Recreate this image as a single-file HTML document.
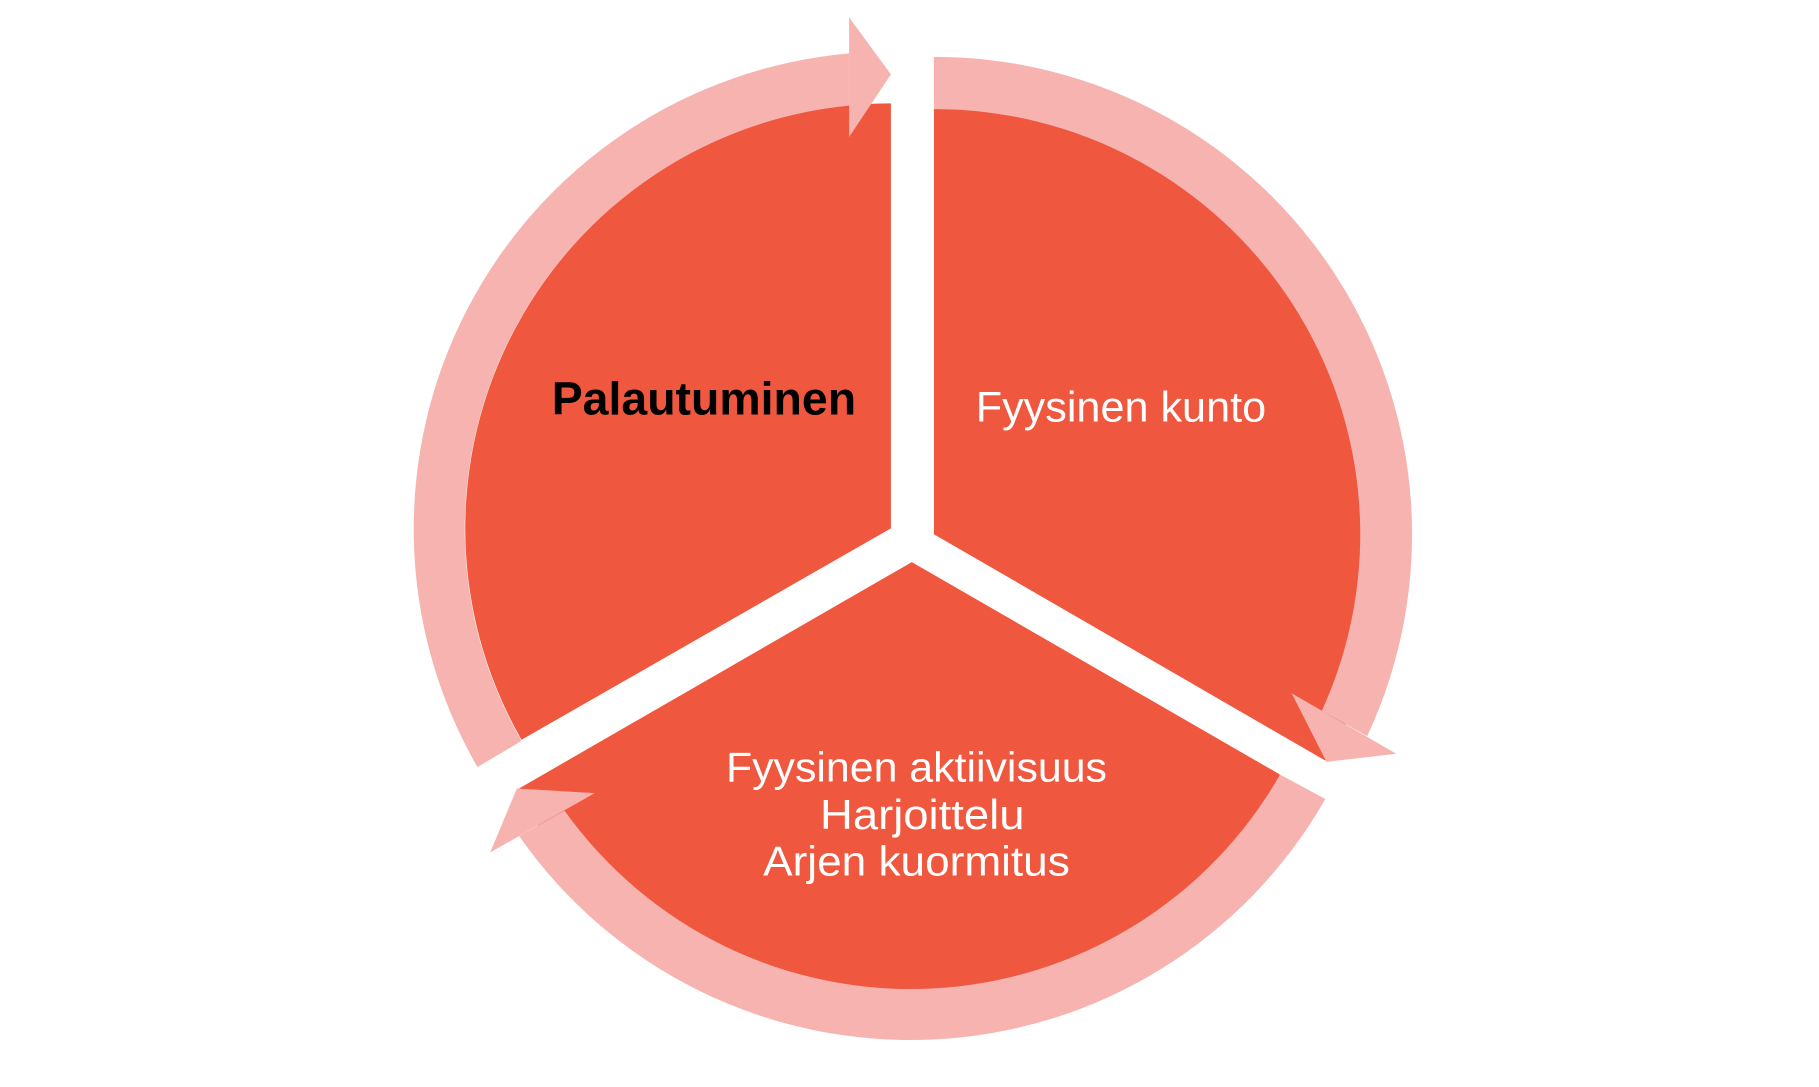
<!DOCTYPE html>
<html><head><meta charset="utf-8"><style>
html,body{margin:0;padding:0;background:#fff;}
svg{display:block;}
text{font-family:"Liberation Sans",sans-serif;}
</style></head><body>
<svg width="1819" height="1087" viewBox="0 0 1566 936" preserveAspectRatio="none" xmlns="http://www.w3.org/2000/svg">
<rect width="1566" height="936" fill="#fff"/>
<!-- slices -->
<path d="M767,64 L767,455 L449,637 A366 366 0 0 1 767,89 Z" fill="#F0573F"/>
<path d="M804,94 L804,460 L1141,655 A366 366 0 0 0 804,94 Z" fill="#F0573F"/>
<path d="M785,484 L1102,667 A366 366 0 0 1 445,680 Z" fill="#F0573F"/>
<!-- rings -->
<path d="M731,46 A411 411 0 0 0 411,660.5 L449,638 A366 366 0 0 1 731,91 Z" fill="#F6B3AF"/>
<polygon points="731,15 767,64 731,118" fill="#F6B3AF"/>
<path d="M804,49 A411 411 0 0 1 1177,634 L1138,612 A366 366 0 0 0 804,94 Z" fill="#F6B3AF"/>
<polygon points="1112,597 1142,656 1202,649" fill="#F6B3AF"/>
<path d="M1141,688 A411 411 0 0 1 447,720 L486,698 A366 366 0 0 0 1102,667 Z" fill="#F6B3AF"/>
<polygon points="512,683 445,679 422,734" fill="#F6B3AF"/>
<!-- labels -->
<text x="606" y="357" font-size="40" font-weight="bold" fill="#000" text-anchor="middle" textLength="262" lengthAdjust="spacingAndGlyphs">Palautuminen</text>
<text x="965" y="363" font-size="37" fill="#fff" text-anchor="middle" textLength="250" lengthAdjust="spacingAndGlyphs">Fyysinen kunto</text>
<text x="789" y="673" font-size="36" fill="#fff" text-anchor="middle" textLength="328" lengthAdjust="spacingAndGlyphs">Fyysinen aktiivisuus</text>
<text x="794" y="714" font-size="36" fill="#fff" text-anchor="middle" textLength="176" lengthAdjust="spacingAndGlyphs">Harjoittelu</text>
<text x="789" y="754" font-size="36" fill="#fff" text-anchor="middle" textLength="264" lengthAdjust="spacingAndGlyphs">Arjen kuormitus</text>
</svg>
</body></html>
